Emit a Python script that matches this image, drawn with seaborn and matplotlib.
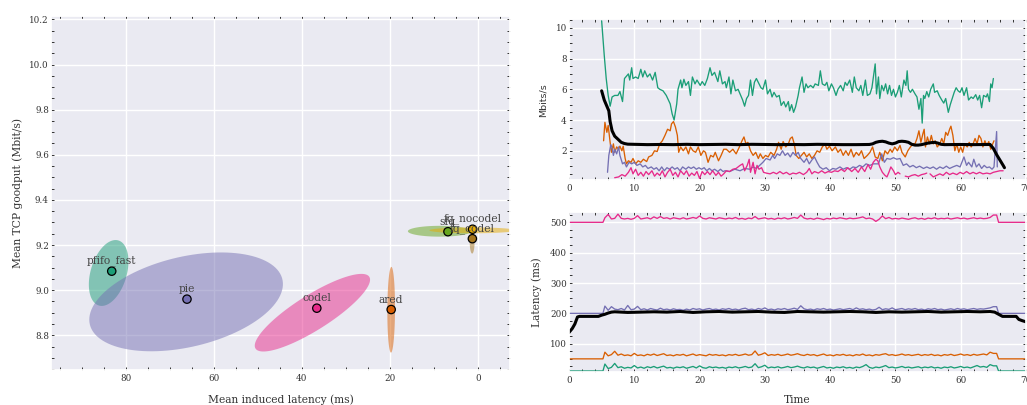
import numpy as np
import matplotlib
matplotlib.use("Agg")
import matplotlib.pyplot as plt
from matplotlib.ticker import MultipleLocator
import seaborn as sns

# ---------------- left panel: goodput vs induced latency per qdisc
schemes = ["pfifo_fast", "pie", "codel", "ared", "sfq", "fq_nocodel", "fq_codel"]
scheme_colors = ["#1b9e77", "#7570b3", "#e7298a", "#d95f02", "#66a61e", "#e6ab02", "#a6761d"]
mean_latency = [83.2, 66.1, 36.6, 19.7, 6.8, 1.2, 1.25]
mean_goodput = [9.084, 8.960, 8.920, 8.914, 9.259, 9.270, 9.228]
# spread ellipses: centre, half extent per axis, correlation
ell_latency = [83.9, 66.3, 37.6, 19.7, 8.7, 1.2, 1.3]
ell_goodput = [9.076, 8.948, 8.900, 8.913, 9.261, 9.265, 9.212]
ell_half_lat = [4.5, 22.0, 13.1, 0.87, 7.2, 9.8, 0.55]
ell_half_gp = [0.146, 0.219, 0.172, 0.19, 0.024, 0.013, 0.05]
ell_corr = [-0.35, -0.36, -0.85, -0.05, 0.0, 0.0, 0.0]

# ---------------- right top: throughput (Mbits/s) over time
green_t = [5.0, 5.4, 5.7, 6.0, 6.3, 6.6, 7.0, 7.5, 7.8, 8.2, 8.5, 8.7, 9.1, 9.3, 9.6, 9.8, 10.2, 10.6, 11.0, 11.3,
           11.6, 12.0, 12.4, 12.8, 13.2, 13.6, 13.9, 14.4, 14.9, 15.5, 15.8, 16.1, 16.5, 16.7, 17.1, 17.3, 17.6,
           17.9, 18.3, 18.6, 18.9, 19.3, 19.6, 20.1, 20.4, 20.8, 21.2, 21.6, 21.9, 22.3, 22.8, 23.1, 23.5, 23.9,
           24.1, 24.5, 24.8, 25.1, 25.5, 25.9, 26.3, 26.6, 26.9, 27.2, 27.5, 27.8, 28.1, 28.4, 28.7, 29.1, 29.4,
           29.7, 30.1, 30.4, 30.8, 31.1, 31.4, 31.8, 32.2, 32.5, 32.9, 33.2, 33.6, 33.8, 34.1, 34.4, 34.7, 35.1,
           35.3, 35.7, 36.0, 36.3, 36.6, 37.0, 37.4, 37.7, 38.2, 38.5, 38.8, 39.2, 39.5, 39.8, 40.2, 40.5, 40.9,
           41.2, 41.6, 42.0, 42.3, 42.6, 43.0, 43.4, 43.7, 44.0, 44.4, 44.7, 45.0, 45.4, 45.7, 46.1, 46.4, 46.9,
           47.1, 47.4, 47.6, 47.9, 48.2, 48.5, 48.8, 49.1, 49.4, 49.7, 50.0, 50.3, 50.6, 50.9, 51.3, 51.6, 51.8,
           52.0, 52.3, 52.6, 53.0, 53.3, 53.6, 53.9, 54.1, 54.3, 54.5, 54.8, 55.1, 55.4, 55.8, 56.0, 56.4, 56.7,
           57.1, 57.4, 57.7, 58.1, 58.4, 58.7, 59.0, 59.3, 59.6, 59.9, 60.2, 60.5, 60.9, 61.2, 61.6, 61.9, 62.3,
           62.6, 62.9, 63.2, 63.5, 63.9, 64.1, 64.4, 64.6, 64.8, 65.0]
green_v = [10.45, 8.2, 6.7, 5.6, 4.9, 5.5, 5.6, 5.6, 5.85, 5.2, 6.7, 6.8, 7.0, 6.6, 7.4, 6.7, 6.8, 6.7, 7.3, 6.8,
           7.2, 6.8, 7.0, 6.6, 7.1, 6.1, 6.0, 5.9, 5.6, 5.05, 4.4, 4.0, 5.05, 6.0, 6.6, 6.1, 6.65,
           6.25, 6.5, 5.6, 6.8, 6.35, 6.6, 6.25, 6.5, 6.25, 6.7, 7.4, 6.9, 7.1, 6.5, 7.2, 6.35, 6.5,
           6.1, 6.8, 5.7, 6.6, 5.9, 6.0, 5.6, 5.3, 4.9, 5.4, 5.6, 6.6, 5.6, 6.45, 6.7, 6.35, 6.1,
           6.0, 6.6, 5.7, 6.0, 5.5, 5.8, 5.5, 5.6, 4.95, 5.2, 4.85, 5.2, 4.6, 5.0, 4.5, 4.85, 5.6,
           6.1, 6.8, 5.8, 6.35, 6.1, 6.25, 6.1, 6.35, 6.25, 7.2, 6.35, 6.25, 6.45, 5.9, 6.35, 6.1, 5.6,
           6.0, 6.25, 5.9, 6.45, 6.25, 6.6, 5.8, 6.8, 6.1, 5.9, 6.25, 5.6, 6.6, 5.6, 5.7, 6.1, 7.65,
           5.7, 6.8, 5.4, 6.25, 5.9, 6.35, 5.7, 6.25, 5.6, 6.0, 5.5, 5.8, 6.25, 5.5, 6.6, 6.25, 7.2,
           6.0, 5.8, 6.0, 5.7, 5.5, 4.7, 5.4, 3.8, 5.6, 5.4, 5.85, 5.5, 6.0, 6.35, 5.8, 5.9, 5.6,
           5.3, 5.1, 5.4, 4.5, 5.0, 5.4, 5.8, 6.1, 5.9, 5.8, 6.1, 5.6, 6.1, 5.3, 5.5, 5.4, 5.65,
           5.3, 5.6, 4.8, 5.6, 5.5, 5.7, 5.2, 6.35, 6.1, 6.7]

orange_t = [5.3, 5.5, 5.8, 6.0, 6.3, 6.5, 6.8, 7.0, 7.3, 7.6, 7.8, 8.1, 8.3, 8.6, 8.8, 9.1, 9.5, 9.8, 10.2, 10.6,
            11.0, 11.4, 11.9, 12.2, 12.7, 13.1, 13.5, 13.9, 14.3, 14.7, 15.1, 15.5, 15.7, 16.0, 16.3, 16.6,
            16.8, 17.1, 17.5, 17.9, 18.3, 18.6, 19.0, 19.4, 19.8, 20.2, 20.6, 20.9, 21.3, 21.7, 22.1, 22.4,
            22.9, 23.3, 23.7, 24.1, 24.6, 25.1, 25.6, 26.1, 26.5, 26.8, 27.1, 27.4, 27.8, 28.2, 28.6, 29.0,
            29.3, 29.7, 30.1, 30.5, 30.9, 31.4, 31.8, 32.1, 32.5, 32.8, 33.2, 33.6, 33.9, 34.2, 34.5, 34.8,
            35.2, 35.6, 36.0, 36.4, 36.8, 37.2, 37.6, 38.0, 38.4, 38.8, 39.2, 39.5, 39.9, 40.3, 40.8, 41.2,
            41.6, 42.0, 42.4, 42.8, 43.2, 43.6, 44.0, 44.4, 44.8, 45.2, 45.7, 46.1, 46.5, 46.9, 47.3, 47.6,
            48.0, 48.4, 48.8, 49.2, 49.5, 49.9, 50.3, 50.7, 51.0, 51.5, 51.9, 52.3, 52.7, 53.0, 53.3, 53.6,
            53.9, 54.2, 54.4, 54.6, 54.9, 55.2, 55.5, 55.8, 56.1, 56.4, 56.8, 57.1, 57.4, 57.7, 58.0, 58.3,
            58.5, 58.8, 59.1, 59.4, 59.7, 60.0, 60.3, 60.6, 61.0, 61.3, 61.6, 61.9, 62.2, 62.5, 62.8, 63.1,
            63.4, 63.7, 64.0, 64.3, 64.6, 64.9, 65.1]
orange_v = [2.65, 3.85, 3.2, 3.65, 2.55, 1.9, 2.45, 1.9, 2.25, 2.1, 2.3, 2.0, 2.3, 1.5, 1.15, 1.35, 1.25, 1.5, 1.15, 1.35,
            1.25, 1.45, 1.3, 1.6, 1.7, 2.0, 1.95, 2.45, 2.65, 3.0, 3.4, 3.3, 3.75, 3.9, 3.55, 3.0,
            1.9, 2.25, 2.0, 2.25, 1.8, 2.25, 2.0, 1.9, 2.25, 1.7, 2.0, 1.9, 1.25, 1.7, 1.6, 1.9,
            1.35, 1.7, 2.1, 2.1, 1.9, 2.1, 1.8, 2.25, 2.65, 2.9, 2.45, 2.55, 2.0, 1.7, 1.9, 1.5,
            1.8, 1.5, 1.7, 1.6, 1.9, 1.7, 2.1, 2.55, 2.1, 2.6, 2.25, 2.45, 2.8, 2.9, 2.45, 1.7,
            1.5, 1.7, 1.9, 1.6, 1.8, 1.5, 1.7, 2.0, 1.9, 2.25, 2.45, 2.1, 2.3, 2.0, 2.25, 1.9,
            2.1, 1.7, 2.0, 1.7, 2.1, 1.6, 1.9, 1.7, 2.0, 1.5, 1.7, 1.9, 2.25, 1.6, 1.5, 1.9,
            1.35, 2.0, 1.8, 2.1, 1.9, 2.25, 2.0, 2.35, 1.9, 1.6, 2.0, 2.25, 2.45, 2.45, 2.8, 3.3,
            2.55, 3.1, 3.4, 2.25, 2.9, 2.45, 3.0, 2.45, 2.65, 2.25, 2.45, 2.8, 2.45, 3.2, 3.0, 3.4,
            3.6, 3.0, 2.0, 2.45, 1.9, 2.25, 1.9, 2.45, 2.25, 2.55, 2.25, 2.45, 2.8, 2.45, 3.0, 2.8,
            2.25, 2.65, 2.35, 2.6, 2.1, 2.45, 2.65]

purple_t = [5.9, 6.1, 6.4, 6.6, 6.8, 7.0, 7.3, 7.6, 7.8, 8.2, 8.5, 8.8, 9.2, 9.6, 10.0, 10.4, 10.9, 11.3, 11.7,
            12.1, 12.6, 13.0, 13.4, 13.8, 14.2, 14.6, 15.0, 15.4, 15.8, 16.2, 16.6, 17.0, 17.4, 17.9, 18.3,
            18.7, 19.1, 19.5, 19.9, 20.3, 20.7, 21.1, 21.5, 21.9, 22.3, 22.8, 23.2, 23.6, 23.9, 24.6, 25.4,
            26.2, 26.9, 27.7, 28.2, 28.7, 29.2, 29.7, 30.2, 30.8, 31.2, 31.5, 31.9, 32.3, 32.7, 33.1, 33.5,
            33.9, 34.3, 34.7, 35.1, 35.5, 36.0, 36.4, 36.8, 37.2, 37.6, 38.0, 38.4, 38.9, 39.4, 39.9, 40.4,
            40.9, 41.5, 42.0, 42.5, 43.0, 43.5, 44.0, 44.5, 45.0, 45.5, 46.1, 46.6, 47.4, 47.9, 48.3, 48.7,
            49.2, 49.7, 50.2, 50.7, 51.2, 51.7, 52.2, 52.7, 53.2, 53.7, 54.3, 54.8, 55.3, 55.8, 56.3, 56.8,
            57.3, 57.8, 58.3, 58.8, 59.4, 59.9, 60.5, 60.9, 61.2, 61.7, 62.0, 62.4, 62.8, 63.2, 63.6, 64.0,
            64.4, 64.8, 65.1, 65.3, 65.5, 65.6]
purple_v = [0.6, 1.7, 2.4, 2.2, 1.7, 2.1, 1.8, 2.25, 1.7, 1.15, 1.25, 0.95, 1.25, 1.15, 1.25, 1.05, 1.15, 0.95, 1.05,
            0.85, 0.95, 0.8, 0.9, 0.7, 0.95, 0.7, 0.9, 0.8, 0.95, 0.8, 0.9, 0.7, 0.95, 0.8, 0.95,
            0.85, 0.95, 0.8, 0.9, 0.8, 0.9, 0.7, 0.85, 0.7, 0.8, 0.65, 0.8, 0.65, 0.7, 0.65, 0.8,
            0.7, 0.85, 0.8, 0.95, 0.85, 1.05, 1.25, 1.5, 1.4, 1.7, 1.5, 1.8, 1.7, 2.0, 1.7, 1.85,
            1.6, 1.9, 1.7, 1.9, 1.5, 1.25, 1.5, 1.15, 1.4, 1.6, 1.25, 0.95, 0.8, 0.9, 0.7, 0.85,
            0.8, 0.95, 0.8, 0.9, 0.8, 0.95, 0.9, 1.05, 0.95, 1.15, 1.05, 1.15, 1.15, 1.8, 1.25, 1.5,
            1.45, 1.55, 1.45, 1.5, 1.05, 1.15, 0.95, 1.05, 0.9, 1.0, 0.85, 0.95, 0.85, 0.95, 0.8, 0.95,
            0.85, 1.0, 0.85, 0.95, 1.05, 0.95, 1.6, 1.05, 1.25, 0.95, 1.45, 0.95, 1.15, 0.85, 1.05, 0.9,
            0.95, 0.8, 0.95, 2.1, 3.25, 0.95]

# nan marks the gaps in the pink trace
pink_t = [7.0, 7.6, 8.1, 8.6, 9.1, 9.5, 9.8, 10.2, 10.6, 11.0, 11.4, 11.8, 12.2, 12.7, 13.1, 13.5, 13.9, 14.3,
          14.7, 15.1, 15.5, 15.9, 16.3, 16.7, 17.1, 17.6, 18.0, 18.4, 18.8, 19.2, 19.6, 20.0, 20.4, 20.8,
          21.2, 21.6, 22.0, 22.5, 22.9, 23.3, 23.7, 24.1, 24.6, 25.1, 25.6, 26.2, 26.6, 26.9, 27.3, 27.6,
          27.8, 28.2, 28.5, 28.8, 29.1, 29.5, 29.8, 30.2, 30.8, 31.3, 31.8, 32.3, 32.8, 33.3, 33.8, 34.3,
          34.8, 35.3, 35.9, 36.4, 36.8, 37.2, 37.6, 38.2, 38.7, 39.2, 39.7, 40.2, 40.7, 41.2, 41.7, 42.2,
          42.7, 43.3, 43.8, 44.3, 44.8, 45.3, 45.8, 46.2, 46.6, 47.0, 47.3, 47.6, 48.0, 48.4, 48.7, 49.0,
          49.3, 49.7, 50.0, 50.4, 50.7, 51.1, 51.5, 52.0, 52.5, 53.0, 53.5, 54.0, 54.5, 54.8, 55.05, 55.3,
          55.8, 56.3, 56.8, 57.3, 57.8, 58.3, 58.8, 59.4, 59.9, 60.4, 60.9, 61.4, 61.9, 62.4, 62.9, 63.4,
          64.0, 64.5, 65.0, 65.5, 66.0, 66.5]
pink_v = [0.25, 0.3, 0.45, 0.35, 0.6, 0.9, 0.5, 0.8, 0.4, 0.6, 0.35, 0.65, 0.45, 0.7, 0.35, 0.55, 0.4, 0.7,
          0.3, 0.6, 0.8, 0.4, 0.6, 0.3, 0.7, 0.45, 0.7, 0.35, 0.55, 0.4, 0.65, 0.2, 0.65, 0.45,
          0.65, 0.45, 0.7, 0.4, 0.6, 0.35, 0.5, 0.7, 0.65, 0.8, 0.85, 1.05, 1.15, 0.7, 1.05, 1.45,
          0.6, 1.25, 0.5, 1.05, 0.8, 0.9, 0.6, 0.55, 0.5, 0.6, 0.5, 0.65, 0.5, 0.6, 0.45, 0.55,
          0.5, 0.6, 0.45, 0.6, 0.85, 0.5, 0.65, 0.55, 0.7, 0.55, 0.65, 0.6, 0.7, 0.65, 0.8, 0.65,
          0.9, 0.65, 0.85, 0.6, 0.95, 0.65, 1.1, 0.8, 1.25, 1.45, 1.35, 0.95, 0.6, 0.4, 0.3, 0.6,
          0.95, 0.7, 0.45, 0.6, 0.5, np.nan, 0.35, 0.3, 0.4, 0.45, 0.35, 0.45, 0.5, 0.55, np.nan, 0.5,
          0.3, 0.4, 0.5, 0.4, 0.6, 0.45, 0.55, 0.45, 0.6, 0.5, 0.65, 0.5, 0.6, 0.5, 0.6, 0.5,
          0.55, 0.5, 0.6, 0.65, 0.7, 0.7]

avg_tput_t = [5.0, 5.4, 5.8, 6.1, 6.3, 6.6, 7.0, 7.5, 8.0, 8.5, 9.0, 10, 12, 14, 16, 18, 20, 22, 24, 26, 28, 30,
              32, 34, 36, 38, 40, 42, 44, 46, 46.5, 47.0, 47.5, 48.0, 48.5, 49.0, 49.5, 50.0, 50.5, 51.0, 51.5,
              52.0, 52.5, 53.0, 53.5, 54.0, 54.5, 55.0, 55.5, 56.0, 56.5, 57.0, 57.5, 60, 62, 64.5, 65.0, 65.5,
              66.0, 66.5, 66.7]
avg_tput_v = [5.9, 5.3, 4.9, 4.6, 3.9, 3.3, 2.95, 2.75, 2.55, 2.47, 2.43, 2.42, 2.4, 2.41, 2.4, 2.42, 2.4, 2.41,
              2.42, 2.4, 2.42, 2.41, 2.4, 2.41, 2.4, 2.42, 2.41, 2.4, 2.4, 2.41, 2.45, 2.55, 2.6, 2.62, 2.58,
              2.5, 2.45, 2.5, 2.6, 2.62, 2.6, 2.55, 2.42, 2.37, 2.37, 2.4, 2.45, 2.5, 2.53, 2.55, 2.5, 2.42,
              2.4, 2.41, 2.4, 2.41, 2.15, 1.75, 1.4, 1.05, 0.9]

# ---------------- right bottom: latency (ms); idle level before/after load, noisy part 5.5..65 s
lat_lead_t = [0.0, 5.2]
lat_tail_t = [65.5, 65.8, 70.0]
pink_lat_base = 500
pink_lat = [515, 526, 511, 513, 527, 513, 511, 513, 510, 513, 522, 511, 513, 515, 511, 518, 513, 519, 513, 515,
            511, 515, 513, 511, 515, 511, 513, 516, 513, 521, 513, 511, 515, 513, 511, 515, 513, 511, 514, 512,
            516, 511, 513, 510, 514, 512, 519, 511, 513, 515, 511, 513, 510, 514, 512, 515, 511, 513, 516, 513,
            524, 514, 511, 513, 510, 514, 512, 509, 513, 511, 514, 512, 515, 513, 511, 514, 512, 513, 515, 518,
            512, 514, 511, 503, 510, 521, 512, 516, 511, 513, 511, 514, 512, 510, 513, 515, 511, 513, 510, 514,
            512, 515, 511, 513, 512, 514, 511, 513, 515, 512, 514, 511, 513, 515, 512, 514, 512, 513, 516, 524]
purple_lat_base = 200
purple_lat = [224, 210, 222, 214, 212, 216, 211, 226, 212, 214, 223, 212, 215, 211, 216, 213, 211, 217, 212, 214,
              211, 215, 212, 213, 210, 214, 211, 216, 213, 215, 211, 214, 216, 212, 214, 211, 215, 213, 216, 212,
              214, 211, 215, 217, 212, 214, 211, 216, 213, 218, 212, 214, 211, 215, 213, 216, 212, 214, 217, 213,
              225, 215, 212, 214, 211, 215, 213, 216, 212, 214, 211, 213, 215, 212, 214, 216, 212, 218, 213, 215,
              212, 214, 211, 213, 220, 212, 215, 213, 218, 212, 214, 216, 212, 215, 213, 216, 212, 214, 211, 215,
              213, 216, 212, 214, 211, 213, 215, 212, 216, 213, 215, 212, 214, 216, 213, 215, 214, 216, 218, 222]
orange_lat_base = 50
orange_lat = [72, 60, 64, 75, 62, 66, 61, 63, 60, 68, 61, 63, 60, 65, 62, 66, 61, 64, 67, 61,
              63, 60, 64, 62, 65, 60, 63, 66, 61, 64, 62, 60, 65, 62, 64, 61, 63, 60, 64, 62,
              65, 61, 63, 66, 62, 64, 76, 62, 65, 70, 61, 64, 62, 65, 61, 63, 66, 62, 64, 67,
              63, 61, 65, 62, 64, 60, 63, 66, 61, 63, 60, 64, 62, 65, 61, 63, 60, 64, 62, 66,
              61, 63, 60, 64, 62, 65, 67, 62, 64, 61, 63, 66, 62, 64, 61, 63, 65, 61, 64, 62,
              65, 61, 63, 60, 64, 62, 65, 61, 63, 66, 62, 64, 61, 65, 62, 64, 66, 63, 72, 68]
green_lat_base = 10
green_lat = [33, 18, 22, 35, 21, 24, 19, 22, 20, 28, 20, 23, 19, 24, 21, 25, 20, 23, 26, 20,
             22, 19, 23, 21, 24, 19, 22, 25, 20, 27, 21, 19, 24, 21, 23, 20, 22, 19, 23, 21,
             24, 20, 22, 25, 21, 23, 34, 21, 24, 29, 20, 23, 21, 24, 20, 22, 25, 21, 23, 26,
             22, 20, 24, 21, 23, 19, 22, 25, 20, 22, 19, 23, 21, 24, 20, 22, 19, 23, 21, 25,
             31, 22, 19, 23, 21, 24, 28, 21, 23, 20, 22, 25, 21, 23, 20, 22, 24, 20, 23, 21,
             24, 20, 22, 19, 23, 21, 24, 20, 22, 25, 21, 23, 20, 24, 28, 23, 25, 22, 31, 27]
avg_lat_t = [0.0, 0.5, 0.9, 1.3, 1.6, 4.5, 5.0, 5.5, 6.0, 6.5, 7.0, 9, 11, 13, 15, 17, 19, 21, 23, 25, 27, 29, 31,
             33, 35, 37, 39, 41, 43, 45, 47, 49, 51, 53, 55, 57, 59, 61, 63, 64.5, 65.2, 65.8, 66.4, 68.5, 68.9,
             69.4, 70.0]
avg_lat_v = [137, 150, 165, 188, 190, 190, 194, 197, 201, 204, 205, 203, 204, 205, 204, 206, 203, 205, 206, 204,
             205, 206, 204, 203, 206, 205, 204, 205, 206, 205, 203, 205, 204, 205, 206, 204, 205, 206, 205, 206,
             204, 197, 190, 190, 180, 176, 172]

sns.set_theme(style="darkgrid")
plt.rcParams["font.family"] = ["DejaVu Serif", "DejaVu Sans"]
plt.rcParams["text.color"] = "#333333"
plt.rcParams["axes.labelcolor"] = "#333333"
plt.rcParams["xtick.color"] = "#333333"
plt.rcParams["ytick.color"] = "#333333"

fig = plt.figure(figsize=(10.27, 4.05), dpi=100)
ax_l = fig.add_axes([51 / 1027, 1 - 370 / 405, 459 / 1027, 354 / 405])
ax_t = fig.add_axes([569 / 1027, 1 - 180 / 405, 457 / 1027, 160.7 / 405])
ax_b = fig.add_axes([569 / 1027, 1 - 372.3 / 405, 457 / 1027, 160.6 / 405])


def style_ticks(ax, xmaj, xmin, ymaj, ymin):
    ax.xaxis.set_major_locator(MultipleLocator(xmaj))
    ax.xaxis.set_minor_locator(MultipleLocator(xmin))
    ax.yaxis.set_major_locator(MultipleLocator(ymaj))
    ax.yaxis.set_minor_locator(MultipleLocator(ymin))
    ax.tick_params(which="both", direction="in", length=2, width=0.7, color="#333333",
                   top=True, right=True, bottom=True, left=True, labelsize=6.3)
    ax.tick_params(axis="x", pad=3)
    ax.tick_params(axis="y", pad=1.5)
    ax.grid(which="major", color="white", lw=1)


# left scatter with ellipses
theta = np.linspace(0, 2 * np.pi, 120)
for i in range(len(schemes)):
    r = ell_corr[i]
    ex = ell_latency[i] + ell_half_lat[i] * np.cos(theta)
    ey = ell_goodput[i] + ell_half_gp[i] * (r * np.cos(theta) + np.sqrt(1 - r * r) * np.sin(theta))
    ax_l.fill(ex, ey, color=scheme_colors[i], alpha=0.5, lw=0, zorder=2)

sns.scatterplot(x=mean_latency, y=mean_goodput, hue=schemes, palette=scheme_colors, ax=ax_l,
                s=36, edgecolor="black", linewidth=0.9, legend=False, zorder=3)
for name, x, y in zip(schemes, mean_latency, mean_goodput):
    ax_l.annotate(name, (x, y), xytext=(0, 3.5), textcoords="offset points",
                  ha="center", va="bottom", fontsize=7.7, color="#444444", zorder=4)

ax_l.set_xlim(97, -7.3)
ax_l.set_ylim(8.646, 10.215)
style_ticks(ax_l, 20, 5, 0.2, 0.05)
ax_l.set_xlabel("Mean induced latency (ms)", fontsize=7.7, labelpad=8)
ax_l.set_ylabel("Mean TCP goodput (Mbit/s)", fontsize=7.7)
ax_l.yaxis.set_label_coords(-0.062, 0.5)

# throughput panel
tput_series = [(green_t, green_v, "#1b9e77"), (orange_t, orange_v, "#d95f02"),
               (purple_t, purple_v, "#7570b3")]
for t, v, c in tput_series:
    sns.lineplot(x=t, y=v, ax=ax_t, color=c, lw=0.95, errorbar=None)

pk_t = np.array(pink_t)
pk_v = np.array(pink_v)
breaks = np.where(np.isnan(pk_v))[0]
start = 0
for stop in list(breaks) + [len(pk_v)]:
    sns.lineplot(x=pk_t[start:stop], y=pk_v[start:stop], ax=ax_t, color="#e7298a", lw=0.95, errorbar=None)
    start = stop + 1
sns.lineplot(x=avg_tput_t, y=avg_tput_v, ax=ax_t, color="black", lw=2.2, errorbar=None)

ax_t.set_xlim(0, 70)
ax_t.set_ylim(0.1, 10.55)
style_ticks(ax_t, 10, 2, 2, 0.5)
ax_t.set_xlabel("")
ax_t.set_ylabel("Mbits/s", fontsize=6.8, family="DejaVu Sans")
ax_t.yaxis.set_label_coords(-0.046, 0.5)

# latency panel
lat_series = [(pink_lat_base, pink_lat, "#e7298a"), (purple_lat_base, purple_lat, "#7570b3"),
              (orange_lat_base, orange_lat, "#d95f02"), (green_lat_base, green_lat, "#1b9e77")]
for base, vals, c in lat_series:
    t = np.concatenate([lat_lead_t, np.linspace(5.5, 65.0, len(vals)), lat_tail_t])
    v = np.concatenate([[base, base], vals, [vals[-1], base, base]])
    sns.lineplot(x=t, y=v, ax=ax_b, color=c, lw=0.95, errorbar=None)
sns.lineplot(x=avg_lat_t, y=avg_lat_v, ax=ax_b, color="black", lw=2.2, errorbar=None)

ax_b.set_xlim(0, 70)
ax_b.set_ylim(5.7, 535)
style_ticks(ax_b, 10, 2, 100, 25)
ax_b.set_xlabel("Time", fontsize=7.7, labelpad=7)
ax_b.set_ylabel("Latency (ms)", fontsize=7.7)
ax_b.yaxis.set_label_coords(-0.06, 0.5)

fig.savefig("out.png", dpi=100)
